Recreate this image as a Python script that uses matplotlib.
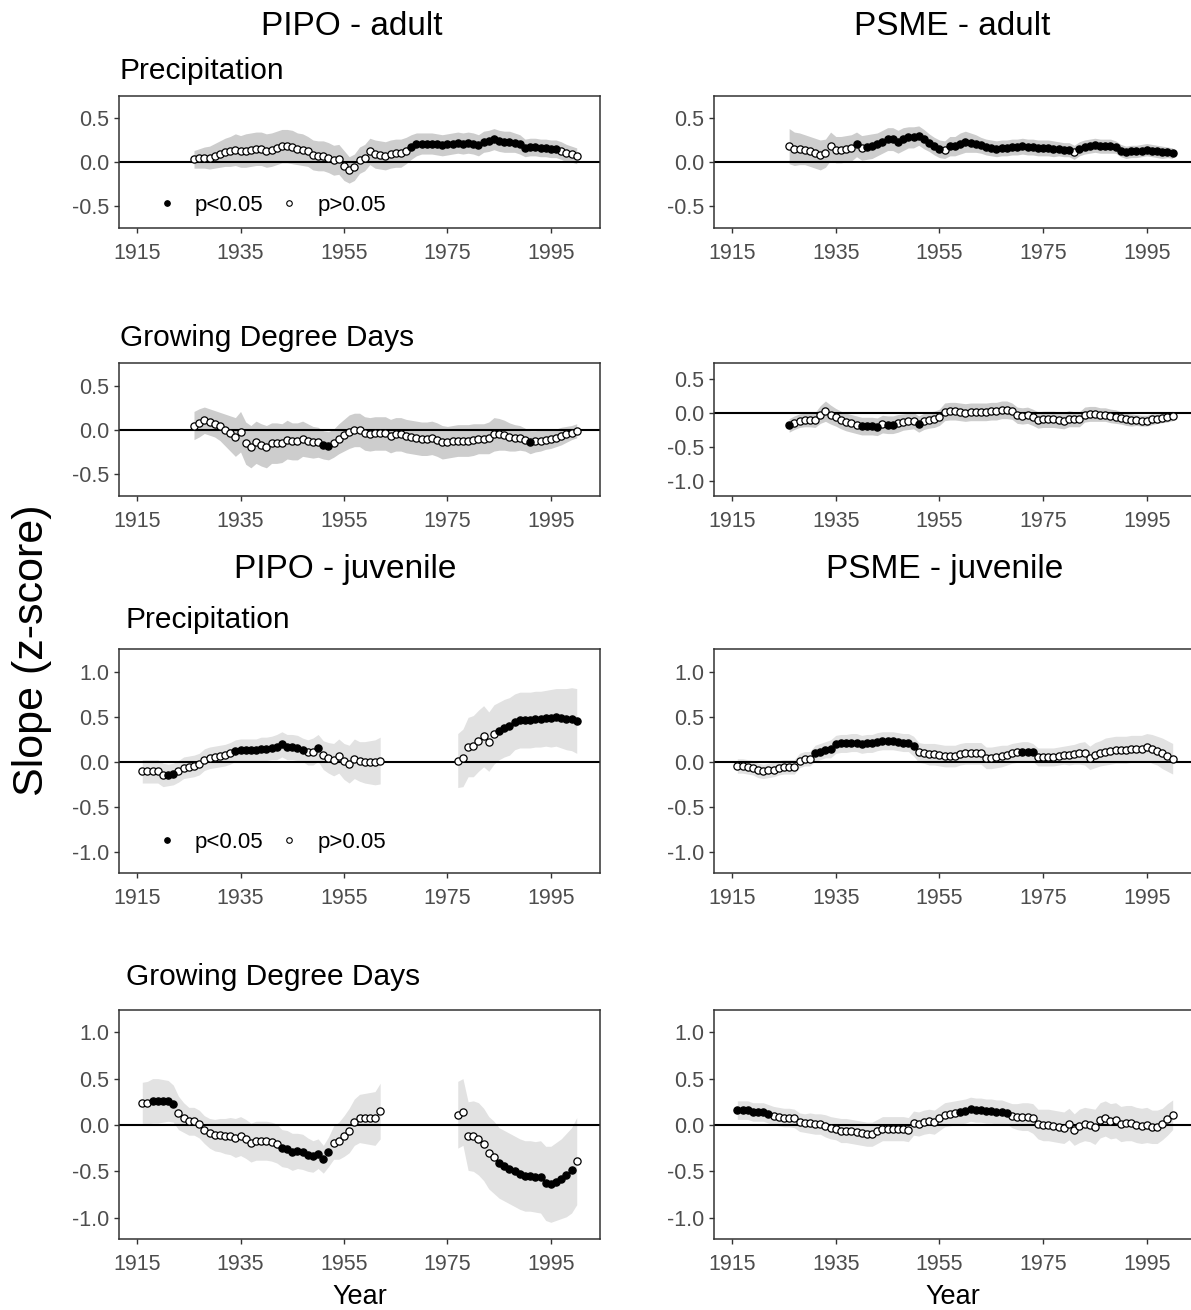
import numpy as np
import matplotlib.pyplot as plt
from matplotlib.lines import Line2D
from matplotlib.ticker import FormatStrFormatter

plt.rcParams['font.family'] = ['Liberation Sans', 'DejaVu Sans']
plt.rcParams['axes.unicode_minus'] = False

# ---- data ----
adult_years = np.arange(1926, 2001)
juv_years_full = np.arange(1916, 2001)
juv_years_gap = np.r_[np.arange(1916, 1963), np.arange(1977, 2001)]

pipo_adult_precip = [0.03, 0.04, 0.05, 0.05, 0.07, 0.09, 0.11, 0.12, 0.14, 0.12,
                     0.13, 0.14, 0.15, 0.15, 0.13, 0.14, 0.16, 0.18, 0.18, 0.17,
                     0.15, 0.14, 0.12, 0.08, 0.07, 0.07, 0.05, 0.02, 0.03, -0.04,
                     -0.09, -0.06, 0.02, 0.05, 0.12, 0.09, 0.08, 0.07, 0.09, 0.10,
                     0.10, 0.13, 0.17, 0.20, 0.21, 0.21, 0.21, 0.20, 0.19, 0.20,
                     0.21, 0.22, 0.21, 0.22, 0.21, 0.19, 0.23, 0.24, 0.26, 0.24,
                     0.23, 0.23, 0.22, 0.20, 0.16, 0.17, 0.17, 0.16, 0.16, 0.15,
                     0.15, 0.13, 0.10, 0.09, 0.07]
pipo_adult_precip_ci = [0.10, 0.11, 0.12, 0.13, 0.14, 0.15, 0.16, 0.17, 0.18, 0.18,
                        0.19, 0.19, 0.19, 0.19, 0.19, 0.19, 0.19, 0.19, 0.19, 0.19,
                        0.18, 0.18, 0.17, 0.17, 0.17, 0.17, 0.17, 0.17, 0.17, 0.17,
                        0.15, 0.15, 0.15, 0.15, 0.15, 0.16, 0.16, 0.16, 0.16, 0.16,
                        0.16, 0.15, 0.14, 0.13, 0.12, 0.12, 0.12, 0.12, 0.12, 0.12,
                        0.12, 0.12, 0.12, 0.12, 0.12, 0.12, 0.12, 0.12, 0.12, 0.12,
                        0.12, 0.12, 0.11, 0.11, 0.10, 0.10, 0.10, 0.10, 0.10, 0.10,
                        0.10, 0.10, 0.10, 0.09, 0.09]
pipo_adult_precip_sig = [(1968, 1996)]

psme_adult_precip = [0.18, 0.15, 0.15, 0.14, 0.12, 0.10, 0.08, 0.10, 0.18, 0.14,
                     0.14, 0.15, 0.16, 0.20, 0.16, 0.17, 0.18, 0.20, 0.23, 0.26,
                     0.26, 0.23, 0.26, 0.28, 0.28, 0.30, 0.26, 0.22, 0.18, 0.15,
                     0.14, 0.18, 0.18, 0.21, 0.23, 0.22, 0.21, 0.19, 0.17, 0.16,
                     0.15, 0.16, 0.16, 0.17, 0.17, 0.18, 0.17, 0.17, 0.16, 0.16,
                     0.16, 0.15, 0.15, 0.14, 0.14, 0.11, 0.15, 0.17, 0.18, 0.19,
                     0.18, 0.18, 0.18, 0.17, 0.13, 0.11, 0.12, 0.12, 0.13, 0.14,
                     0.13, 0.12, 0.11, 0.11, 0.10]
psme_adult_precip_ci = [0.20, 0.19, 0.18, 0.17, 0.17, 0.17, 0.17, 0.16, 0.16, 0.15,
                        0.15, 0.15, 0.15, 0.14, 0.14, 0.14, 0.14, 0.13, 0.13, 0.13,
                        0.13, 0.13, 0.13, 0.12, 0.12, 0.11, 0.11, 0.10, 0.10, 0.10,
                        0.10, 0.11, 0.11, 0.12, 0.12, 0.11, 0.10, 0.09, 0.09, 0.09,
                        0.09, 0.09, 0.09, 0.09, 0.09, 0.09, 0.09, 0.09, 0.09, 0.09,
                        0.09, 0.09, 0.08, 0.08, 0.08, 0.08, 0.08, 0.08, 0.08, 0.08,
                        0.08, 0.08, 0.08, 0.07, 0.07, 0.07, 0.07, 0.07, 0.07, 0.07,
                        0.07, 0.07, 0.07, 0.06, 0.06]
psme_adult_precip_sig = [(1939, 1939), (1941, 1955), (1957, 1980), (1982, 2000)]

pipo_adult_gdd = [0.05, 0.08, 0.11, 0.09, 0.07, 0.04, 0.00, -0.04, -0.08, -0.02,
                  -0.15, -0.19, -0.14, -0.17, -0.19, -0.15, -0.15, -0.15, -0.11, -0.13,
                  -0.13, -0.10, -0.12, -0.14, -0.14, -0.17, -0.18, -0.15, -0.10, -0.06,
                  -0.02, 0.00, 0.00, -0.04, -0.05, -0.04, -0.04, -0.04, -0.07, -0.05,
                  -0.05, -0.07, -0.08, -0.09, -0.10, -0.10, -0.09, -0.11, -0.14, -0.14,
                  -0.13, -0.12, -0.12, -0.12, -0.11, -0.10, -0.10, -0.09, -0.05, -0.05,
                  -0.06, -0.08, -0.09, -0.09, -0.11, -0.14, -0.13, -0.12, -0.11, -0.10,
                  -0.09, -0.07, -0.05, -0.03, -0.01]
pipo_adult_gdd_ci = [0.16, 0.16, 0.15, 0.15, 0.15, 0.16, 0.18, 0.20, 0.22, 0.23,
                     0.24, 0.24, 0.24, 0.24, 0.24, 0.23, 0.23, 0.22, 0.22, 0.21,
                     0.21, 0.20, 0.19, 0.18, 0.17, 0.16, 0.16, 0.16, 0.17, 0.18,
                     0.19, 0.19, 0.19, 0.19, 0.19, 0.19, 0.19, 0.19, 0.19, 0.19,
                     0.19, 0.19, 0.19, 0.19, 0.19, 0.19, 0.19, 0.19, 0.19, 0.18,
                     0.18, 0.18, 0.18, 0.18, 0.18, 0.17, 0.17, 0.18, 0.19, 0.18,
                     0.17, 0.16, 0.15, 0.14, 0.13, 0.13, 0.12, 0.12, 0.11, 0.11,
                     0.10, 0.10, 0.09, 0.08, 0.08]
pipo_adult_gdd_sig = [(1951, 1952), (1991, 1991)]

psme_adult_gdd = [-0.18, -0.14, -0.11, -0.10, -0.10, -0.10, -0.02, 0.03, -0.02, -0.06,
                  -0.10, -0.13, -0.15, -0.17, -0.19, -0.19, -0.19, -0.20, -0.16, -0.17,
                  -0.17, -0.15, -0.13, -0.12, -0.11, -0.16, -0.12, -0.10, -0.09, -0.06,
                  0.02, 0.03, 0.03, 0.02, 0.01, 0.02, 0.02, 0.02, 0.02, 0.03,
                  0.03, 0.05, 0.05, 0.03, -0.03, -0.04, -0.03, -0.06, -0.10, -0.09,
                  -0.09, -0.09, -0.10, -0.11, -0.08, -0.09, -0.09, -0.02, -0.01, -0.01,
                  -0.02, -0.02, -0.04, -0.05, -0.07, -0.09, -0.10, -0.10, -0.11, -0.11,
                  -0.09, -0.08, -0.07, -0.06, -0.04]
psme_adult_gdd_ci = [0.10, 0.10, 0.10, 0.10, 0.10, 0.11, 0.13, 0.15, 0.14, 0.13,
                     0.13, 0.13, 0.13, 0.13, 0.13, 0.13, 0.13, 0.13, 0.13, 0.13,
                     0.13, 0.13, 0.12, 0.12, 0.12, 0.12, 0.12, 0.12, 0.12, 0.12,
                     0.13, 0.13, 0.13, 0.13, 0.13, 0.13, 0.13, 0.13, 0.13, 0.13,
                     0.13, 0.13, 0.13, 0.12, 0.12, 0.12, 0.12, 0.12, 0.12, 0.12,
                     0.12, 0.12, 0.12, 0.12, 0.12, 0.11, 0.11, 0.11, 0.11, 0.11,
                     0.10, 0.10, 0.10, 0.10, 0.09, 0.09, 0.09, 0.08, 0.08, 0.08,
                     0.08, 0.07, 0.07, 0.07, 0.07]
psme_adult_gdd_sig = [(1926, 1926), (1940, 1943), (1945, 1946), (1951, 1951)]

pipo_juv_precip = [-0.10, -0.10, -0.10, -0.10, -0.14, -0.14, -0.13, -0.10, -0.06, -0.05,
                   -0.04, -0.02, 0.03, 0.05, 0.06, 0.07, 0.08, 0.10, 0.13, 0.14,
                   0.14, 0.14, 0.14, 0.15, 0.15, 0.16, 0.17, 0.20, 0.17, 0.17,
                   0.16, 0.14, 0.11, 0.12, 0.16, 0.08, 0.05, 0.03, 0.07, 0.01,
                   -0.02, 0.04, 0.01, 0.00, 0.00, 0.00, 0.02,
                   0.02, 0.05, 0.17, 0.18, 0.24, 0.29, 0.23, 0.31,
                   0.35, 0.38, 0.40, 0.45, 0.47, 0.47, 0.47, 0.48,
                   0.48, 0.49, 0.49, 0.50, 0.49, 0.48, 0.48, 0.46]
pipo_juv_precip_ci = [0.13, 0.13, 0.13, 0.13, 0.13, 0.12, 0.12, 0.12, 0.12, 0.12,
                      0.12, 0.12, 0.12, 0.12, 0.12, 0.12, 0.12, 0.12, 0.12, 0.12,
                      0.12, 0.12, 0.12, 0.13, 0.13, 0.13, 0.14, 0.14, 0.14, 0.14,
                      0.14, 0.13, 0.14, 0.15, 0.15, 0.16, 0.17, 0.18, 0.19, 0.20,
                      0.21, 0.22, 0.22, 0.23, 0.24, 0.25, 0.26,
                      0.30, 0.32, 0.33, 0.34, 0.34, 0.34, 0.33, 0.33,
                      0.32, 0.32, 0.32, 0.31, 0.31, 0.31, 0.31, 0.31,
                      0.31, 0.31, 0.32, 0.32, 0.33, 0.34, 0.35, 0.36]
pipo_juv_precip_sig = [(1921, 1922), (1934, 1947), (1950, 1950), (1985, 2000)]

psme_juv_precip = [-0.04, -0.04, -0.05, -0.06, -0.09, -0.10, -0.09, -0.08, -0.06, -0.05,
                   -0.05, -0.05, 0.02, 0.04, 0.04, 0.10, 0.12, 0.14, 0.15, 0.20,
                   0.21, 0.21, 0.22, 0.22, 0.20, 0.21, 0.21, 0.23, 0.24, 0.24,
                   0.24, 0.23, 0.22, 0.22, 0.18, 0.11, 0.10, 0.09, 0.09, 0.08,
                   0.07, 0.07, 0.07, 0.09, 0.10, 0.10, 0.10, 0.10, 0.05, 0.05,
                   0.06, 0.07, 0.08, 0.10, 0.11, 0.12, 0.12, 0.11, 0.06, 0.06,
                   0.06, 0.06, 0.07, 0.08, 0.08, 0.09, 0.10, 0.10, 0.05, 0.08,
                   0.10, 0.12, 0.13, 0.14, 0.14, 0.14, 0.15, 0.15, 0.15, 0.17,
                   0.15, 0.13, 0.10, 0.07, 0.04]
psme_juv_precip_ci = [0.08, 0.08, 0.08, 0.08, 0.08, 0.08, 0.08, 0.08, 0.08, 0.08,
                      0.08, 0.08, 0.08, 0.08, 0.08, 0.09, 0.09, 0.09, 0.10, 0.10,
                      0.10, 0.10, 0.10, 0.10, 0.10, 0.10, 0.10, 0.10, 0.10, 0.10,
                      0.10, 0.10, 0.10, 0.10, 0.11, 0.11, 0.11, 0.12, 0.12, 0.12,
                      0.12, 0.12, 0.12, 0.12, 0.12, 0.12, 0.12, 0.12, 0.12, 0.12,
                      0.12, 0.12, 0.11, 0.11, 0.11, 0.11, 0.11, 0.10, 0.10, 0.10,
                      0.10, 0.10, 0.10, 0.10, 0.11, 0.11, 0.12, 0.13, 0.13, 0.14,
                      0.14, 0.15, 0.15, 0.15, 0.15, 0.15, 0.15, 0.15, 0.15, 0.15,
                      0.16, 0.16, 0.17, 0.17, 0.17]
psme_juv_precip_sig = [(1931, 1950), (1971, 1973)]

pipo_juv_gdd = [0.24, 0.24, 0.26, 0.26, 0.26, 0.26, 0.23, 0.13, 0.08, 0.04,
                0.04, 0.01, -0.05, -0.09, -0.11, -0.11, -0.12, -0.12, -0.14, -0.12,
                -0.15, -0.19, -0.17, -0.17, -0.17, -0.18, -0.20, -0.25, -0.26, -0.29,
                -0.28, -0.29, -0.32, -0.34, -0.31, -0.37, -0.29, -0.19, -0.17, -0.12,
                -0.06, 0.03, 0.07, 0.07, 0.07, 0.07, 0.15,
                0.11, 0.14, -0.12, -0.12, -0.15, -0.21, -0.30, -0.35,
                -0.41, -0.44, -0.47, -0.50, -0.53, -0.55, -0.55, -0.56,
                -0.56, -0.63, -0.64, -0.61, -0.58, -0.54, -0.49, -0.39]
pipo_juv_gdd_ci = [0.22, 0.23, 0.24, 0.24, 0.23, 0.22, 0.20, 0.18, 0.16, 0.15,
                   0.15, 0.15, 0.15, 0.16, 0.17, 0.18, 0.19, 0.20, 0.21, 0.21,
                   0.21, 0.21, 0.21, 0.21, 0.21, 0.21, 0.21, 0.20, 0.20, 0.20,
                   0.19, 0.19, 0.18, 0.17, 0.16, 0.15, 0.16, 0.18, 0.20, 0.22,
                   0.24, 0.25, 0.26, 0.27, 0.28, 0.29, 0.30,
                   0.36, 0.36, 0.37, 0.38, 0.39, 0.39, 0.39, 0.39,
                   0.38, 0.38, 0.38, 0.38, 0.38, 0.38, 0.38, 0.38,
                   0.39, 0.40, 0.41, 0.42, 0.43, 0.45, 0.46, 0.47]
pipo_juv_gdd_sig = [(1918, 1922), (1943, 1952), (1985, 1999)]

psme_juv_gdd = [0.16, 0.16, 0.16, 0.14, 0.14, 0.14, 0.12, 0.10, 0.09, 0.08,
                0.08, 0.07, 0.03, 0.02, 0.02, 0.01, 0.01, -0.01, -0.03, -0.04,
                -0.06, -0.06, -0.07, -0.08, -0.09, -0.10, -0.10, -0.07, -0.04, -0.04,
                -0.04, -0.04, -0.04, -0.05, 0.02, 0.01, 0.03, 0.04, 0.03, 0.07,
                0.11, 0.12, 0.13, 0.14, 0.15, 0.17, 0.16, 0.16, 0.15, 0.15,
                0.14, 0.14, 0.13, 0.10, 0.09, 0.09, 0.09, 0.07, 0.01, 0.00,
                0.00, -0.01, -0.02, -0.03, 0.01, -0.05, -0.01, 0.01, 0.00, -0.02,
                0.05, 0.07, 0.04, 0.05, 0.01, 0.02, 0.02, 0.00, -0.01, 0.00,
                -0.02, -0.02, 0.01, 0.06, 0.11]
psme_juv_gdd_ci = [0.10, 0.10, 0.10, 0.10, 0.10, 0.10, 0.10, 0.10, 0.10, 0.10,
                   0.10, 0.10, 0.10, 0.10, 0.11, 0.11, 0.11, 0.12, 0.12, 0.12,
                   0.13, 0.13, 0.13, 0.13, 0.13, 0.13, 0.13, 0.13, 0.13, 0.13,
                   0.13, 0.13, 0.13, 0.13, 0.13, 0.13, 0.13, 0.13, 0.13, 0.13,
                   0.13, 0.13, 0.13, 0.13, 0.13, 0.13, 0.13, 0.13, 0.13, 0.13,
                   0.13, 0.13, 0.12, 0.13, 0.14, 0.15, 0.15, 0.16, 0.16, 0.17,
                   0.17, 0.17, 0.17, 0.17, 0.17, 0.17, 0.18, 0.18, 0.18, 0.19,
                   0.19, 0.19, 0.19, 0.19, 0.19, 0.19, 0.19, 0.19, 0.19, 0.19,
                   0.18, 0.18, 0.17, 0.17, 0.16]
psme_juv_gdd_sig = [(1916, 1922), (1959, 1968)]

year_ticks = [1915, 1935, 1955, 1975, 1995]

# ---- layout, in pixels of the 1191x1310 output ----
W, H = 1191, 1310
fig = plt.figure(figsize=(W / 100, H / 100), dpi=100)


def px_rect(left, top, right, bottom):
    return [left / W, 1 - bottom / H, (right - left) / W, (bottom - top) / H]


def draw_panel(rect, years, slope, ci, sig_spans, ylim, yticks, band, legend_y=None):
    ax = fig.add_axes(px_rect(*rect))
    years = np.asarray(years)
    slope = np.asarray(slope)
    ci = np.asarray(ci)
    lo, hi = slope - ci, slope + ci

    breaks = np.where(np.diff(years) > 1)[0] + 1
    for idx in np.split(np.arange(len(years)), breaks):
        ax.fill_between(years[idx], lo[idx], hi[idx], color=band, lw=0, zorder=1)
    ax.axhline(0, color='black', lw=1.5, zorder=2)

    sig = np.zeros(len(years), dtype=bool)
    for a, b in sig_spans:
        sig |= (years >= a) & (years <= b)
    ax.scatter(years[~sig], slope[~sig], s=27, facecolor='white', edgecolor='black',
               linewidth=0.9, zorder=3)
    ax.scatter(years[sig], slope[sig], s=27, facecolor='black', edgecolor='black',
               linewidth=0.9, zorder=4)

    ax.set_xlim(1911.5, 2004.5)
    ax.set_ylim(*ylim)
    ax.set_xticks(year_ticks)
    ax.set_yticks(yticks)
    ax.yaxis.set_major_formatter(FormatStrFormatter('%.1f'))
    for sp in ax.spines.values():
        sp.set_color('#333333')
        sp.set_linewidth(1.1)
    ax.tick_params(direction='out', length=3.8, width=1.0, color='#333333',
                   labelcolor='#4d4d4d', labelsize=15.5, pad=3)
    ax.tick_params(axis='x', pad=7)

    if legend_y is not None:
        handles = [Line2D([], [], marker='o', ls='none', markersize=4,
                          mfc='black', mec='black', mew=0.8),
                   Line2D([], [], marker='o', ls='none', markersize=4,
                          mfc='white', mec='black', mew=0.8)]
        ax.legend(handles, ['p<0.05', 'p>0.05'], loc='center left',
                  bbox_to_anchor=(0.081, legend_y), ncol=2, frameon=False,
                  fontsize=16, handlelength=0.8, handletextpad=0.86,
                  columnspacing=0.77, borderpad=0, borderaxespad=0)
    return ax


adult_band = '#cdcdcd'
juv_band = '#e2e2e2'
left_x = (119, 600)
right_x = (714, 1196)

draw_panel((left_x[0], 96, left_x[1], 228), adult_years, pipo_adult_precip,
           pipo_adult_precip_ci, pipo_adult_precip_sig, (-0.75, 0.75),
           [-0.5, 0, 0.5], adult_band, legend_y=0.174)
draw_panel((right_x[0], 96, right_x[1], 228), adult_years, psme_adult_precip,
           psme_adult_precip_ci, psme_adult_precip_sig, (-0.75, 0.75),
           [-0.5, 0, 0.5], adult_band)
draw_panel((left_x[0], 363, left_x[1], 496), adult_years, pipo_adult_gdd,
           pipo_adult_gdd_ci, pipo_adult_gdd_sig, (-0.75, 0.76),
           [-0.5, 0, 0.5], adult_band)
draw_panel((right_x[0], 363, right_x[1], 496), adult_years, psme_adult_gdd,
           psme_adult_gdd_ci, psme_adult_gdd_sig, (-1.22, 0.74),
           [-1.0, -0.5, 0, 0.5], adult_band)
draw_panel((left_x[0], 649, left_x[1], 873), juv_years_gap, pipo_juv_precip,
           pipo_juv_precip_ci, pipo_juv_precip_sig, (-1.23, 1.26),
           [-1.0, -0.5, 0, 0.5, 1.0], juv_band, legend_y=0.138)
draw_panel((right_x[0], 649, right_x[1], 873), juv_years_full, psme_juv_precip,
           psme_juv_precip_ci, psme_juv_precip_sig, (-1.23, 1.26),
           [-1.0, -0.5, 0, 0.5, 1.0], juv_band)
draw_panel((left_x[0], 1010, left_x[1], 1239), juv_years_gap, pipo_juv_gdd,
           pipo_juv_gdd_ci, pipo_juv_gdd_sig, (-1.23, 1.24),
           [-1.0, -0.5, 0, 0.5, 1.0], juv_band)
draw_panel((right_x[0], 1010, right_x[1], 1239), juv_years_full, psme_juv_gdd,
           psme_juv_gdd_ci, psme_juv_gdd_sig, (-1.23, 1.24),
           [-1.0, -0.5, 0, 0.5, 1.0], juv_band)


def label(x, y, s, size, ha='left', **kw):
    fig.text(x / W, 1 - y / H, s, fontsize=size, ha=ha, va='baseline', **kw)


label(352, 35, 'PIPO - adult', 24, ha='center')
label(952, 35, 'PSME - adult', 24, ha='center')
label(120, 79, 'Precipitation', 21.5)
label(120, 346, 'Growing Degree Days', 21.5)
label(345, 578, 'PIPO - juvenile', 24, ha='center')
label(945, 578, 'PSME - juvenile', 24, ha='center')
label(126, 628, 'Precipitation', 21.5)
label(126, 985, 'Growing Degree Days', 21.5)
label(360, 1304, 'Year', 19.5, ha='center')
label(953, 1304, 'Year', 19.5, ha='center')
fig.text(32 / W, 1 - 650 / H, 'Slope (z-score)', fontsize=31, rotation=90,
         ha='center', va='center')

fig.savefig('out.png', dpi=100)
